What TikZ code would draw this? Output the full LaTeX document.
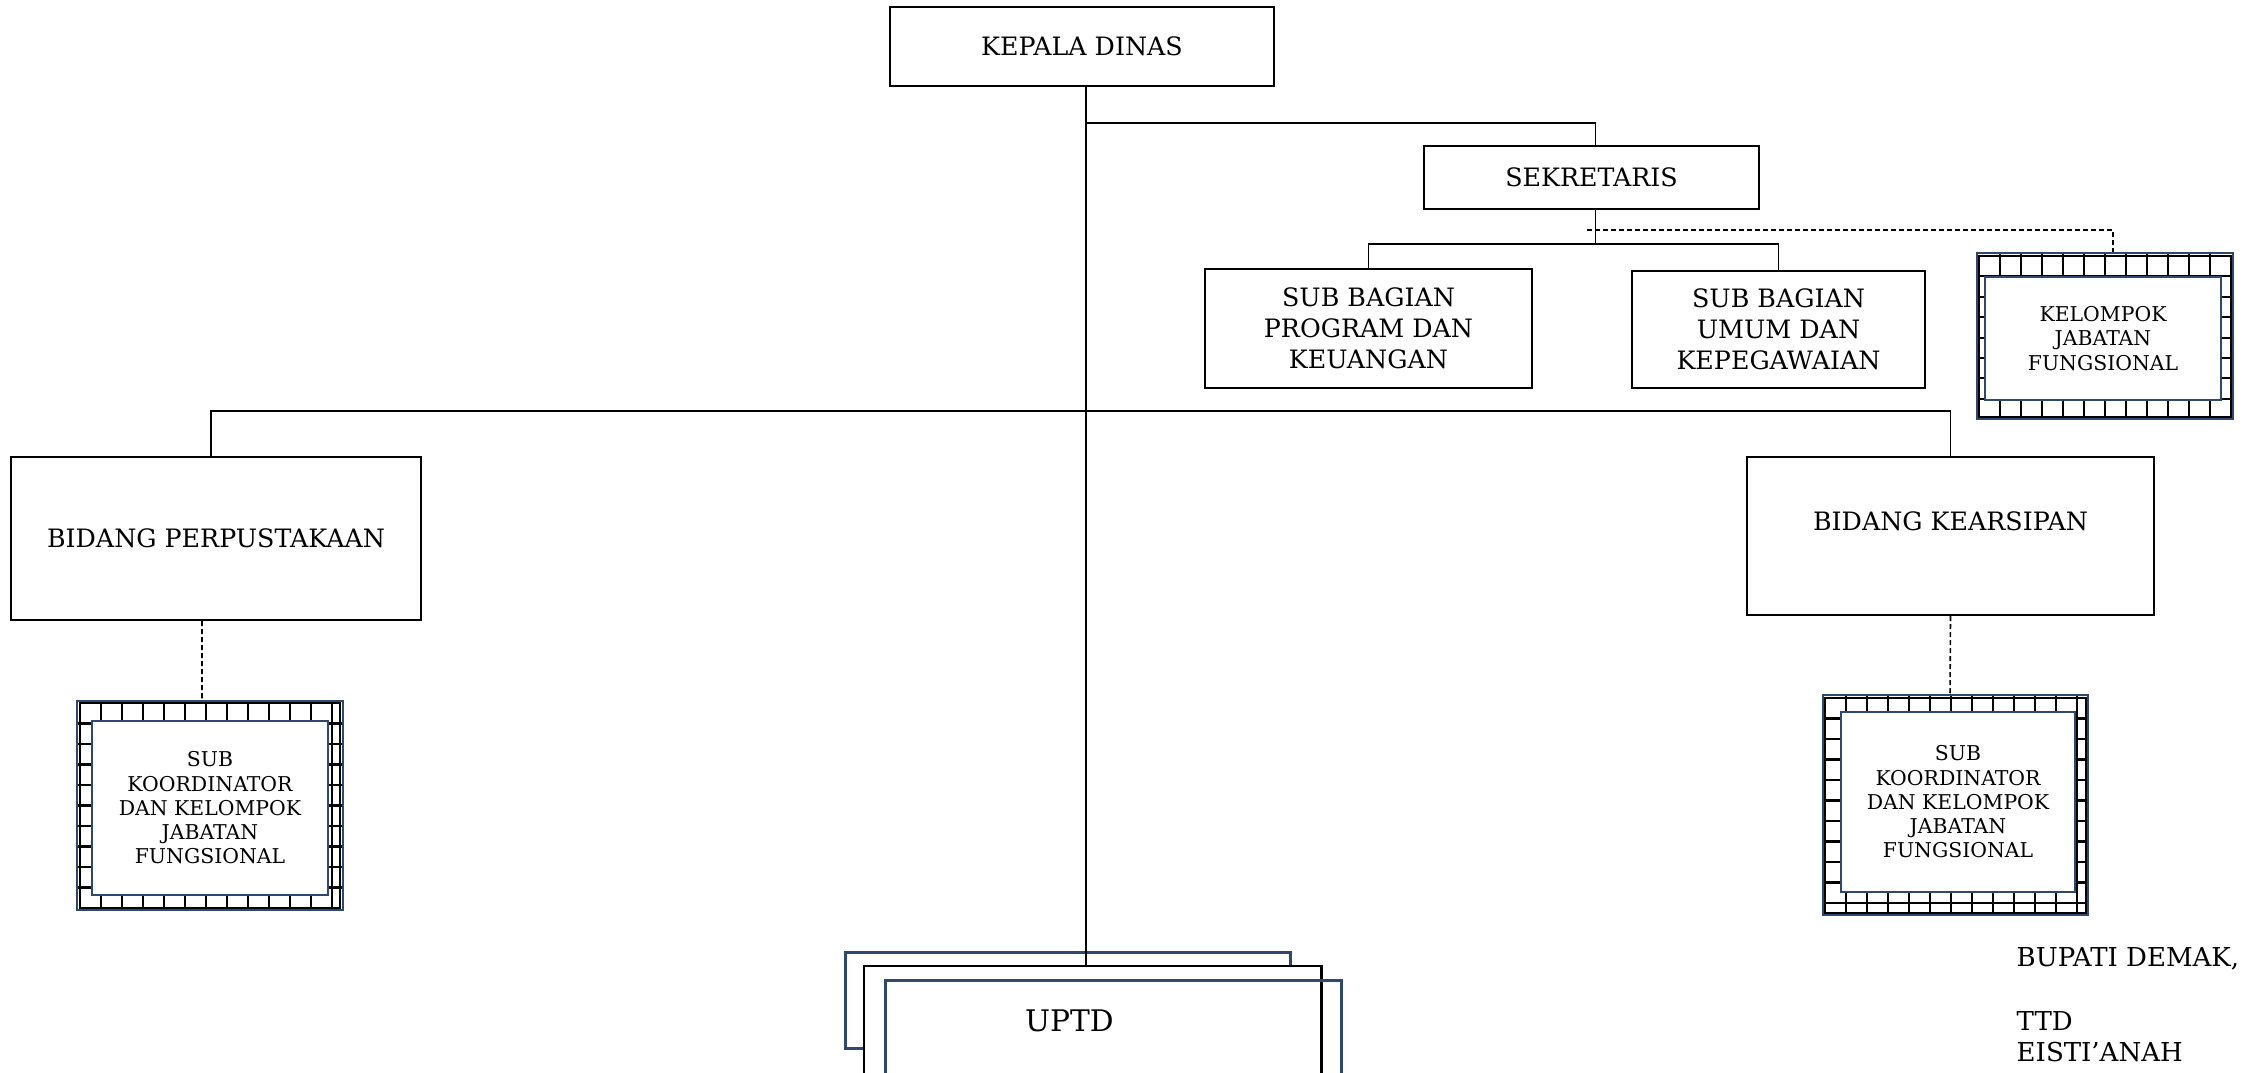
\documentclass[tikz,border=0pt]{standalone}
\usepackage{fontspec}
\setmainfont{DejaVu Serif}
\usepackage{tikz}
\definecolor{birutua}{RGB}{46,72,110}
\tikzset{
    kotak/.style={
           rectangle,
           draw=black, line width=0.65pt,
           fill=white,
           align=center,
           inner sep=1pt,
           font=\fontsize{7.2}{8.8}\selectfont},
    kotakjf/.style={
           rectangle,
           draw=birutua, line width=0.6pt,
           fill=white,
           align=center,
           inner sep=1pt,
           font=\fontsize{5.8}{6.9}\selectfont},
    kotakuptd/.style={
           rectangle,
           draw=birutua, line width=0.75pt},
    garis/.style={draw=black, line width=0.45pt},
    putus/.style={garis, dash pattern=on 0.5mm off 0.3mm},
    arsir/.style={draw=black, line width=0.6pt},
    bingkai/.style={draw=birutua, line width=0.7pt}
}

\begin{document}
\begin{tikzpicture}[x=0.01cm, y=-0.01cm]
  \useasboundingbox (0,0) rectangle (2255,1072);
  \clip (0,0) rectangle (2255,1072);
  % bingkai arsir kelompok jabatan fungsional
  \begin{scope}
    \clip (1977,253) rectangle (2233,419);
    \fill[white] (1977,253) rectangle (2233,419);
    \foreach \i in {1,...,11} \draw[arsir] (1979+21*\i,253) -- (1979+21*\i,419);
    \foreach \j in {1,...,7} \draw[arsir] (1977,256+20.4*\j) -- (2233,256+20.4*\j);
    \draw[arsir] (1979,256) rectangle (2231,417);
  \end{scope}
  \draw[bingkai] (1977,253) rectangle (2233,419);
  % bingkai arsir sub koordinator kiri
  \begin{scope}
    \clip (77,701) rectangle (343,910);
    \fill[white] (77,701) rectangle (343,910);
    \foreach \i in {1,...,12} \draw[arsir] (80+21*\i,701) -- (80+21*\i,910);
    \foreach \j in {1,...,9} \draw[arsir] (77,703+20.5*\j) -- (343,703+20.5*\j);
    \draw[arsir] (80,703) rectangle (340,908);
  \end{scope}
  \draw[bingkai] (77,701) rectangle (343,910);
  % bingkai arsir sub koordinator kanan
  \begin{scope}
    \clip (1823,695) rectangle (2088,915);
    \fill[white] (1823,695) rectangle (2088,915);
    \foreach \i in {1,...,12} \draw[arsir] (1825+21*\i,695) -- (1825+21*\i,915);
    \foreach \j in {1,...,10} \draw[arsir] (1823,698+20.5*\j) -- (2088,698+20.5*\j);
    \draw[arsir] (1825,698) rectangle (2086,913);
  \end{scope}
  \draw[bingkai] (1823,695) rectangle (2088,915);

  \node[kotak, minimum width=3.84cm, minimum height=0.79cm] (kadin) at (1082,46.5) {KEPALA DINAS};
  \node[kotak, minimum width=3.35cm, minimum height=0.63cm] (sekr) at (1591.5,177.5) {SEKRETARIS};
  \node[kotak, minimum width=3.27cm, minimum height=1.19cm] (subprog) at (1368.5,328.5) {SUB BAGIAN\\PROGRAM DAN\\KEUANGAN};
  \node[kotak, minimum width=2.93cm, minimum height=1.17cm] (subumum) at (1778.5,329.5) {SUB BAGIAN\\UMUM DAN\\KEPEGAWAIAN};
  \node[kotakjf, minimum width=2.36cm, minimum height=1.23cm] (kjf) at (2103,338.5) {KELOMPOK\\JABATAN\\FUNGSIONAL};
  \node[kotak, minimum width=4.10cm, minimum height=1.63cm] (bperp) at (216,538.5) {BIDANG PERPUSTAKAAN};
  \node[kotak, minimum width=4.07cm, minimum height=1.58cm] (bkars) at (1950.5,536) {\raisebox{3mm}{BIDANG KEARSIPAN}};
  \node[kotakjf, minimum width=2.36cm, minimum height=1.74cm] (sk1) at (210,808) {SUB\\KOORDINATOR\\DAN KELOMPOK\\JABATAN\\FUNGSIONAL};
  \node[kotakjf, minimum width=2.34cm, minimum height=1.80cm] (sk2) at (1958,802) {SUB\\KOORDINATOR\\DAN KELOMPOK\\JABATAN\\FUNGSIONAL};
  \node[kotakuptd, anchor=north west, minimum width=4.45cm, minimum height=0.96cm] (uptdbelakang) at (844,951) {};
  \node[kotak, anchor=north west, minimum width=4.57cm, minimum height=1.5cm] (uptdtengah) at (863,965) {};
  \node[kotakuptd, anchor=north west, minimum width=4.56cm, inner ysep=2.9mm, text height=2.2mm, text depth=8mm,
        font=\fontsize{8.45}{10}\selectfont] (uptd) at (884,979) {\hspace*{-8.8mm}UPTD};
  \node[anchor=north west, inner sep=0pt, align=left, font=\fontsize{7.4}{8.8}\selectfont] (bupati) at (2016,947)
        {BUPATI DEMAK,\\[3.3mm]TTD\\EISTI'ANAH};

  \coordinate (cabsekr) at (1591.5,244);
  \coordinate (cabjf) at (1587,230);
  \draw[garis] ([xshift=0.4mm]kadin.south) -- ([xshift=0.4mm]kadin.south |- uptdtengah.north);
  \draw[garis] ([xshift=0.4mm]kadin.south) ++(0,36) -| ([xshift=0.4mm]sekr.north);
  \draw[garis] ([xshift=0.4mm]sekr.south) -- ([xshift=0.4mm]cabsekr);
  \draw[garis] (subprog.north) |- (cabsekr) -| (subumum.north);
  \draw[putus] (cabjf) -| ([xshift=1mm,yshift=2.4mm]kjf.north);
  \draw[garis] ([xshift=-0.5mm]bperp.north) -- ++(0,-45) -| (bkars.north);
  \draw[putus] ([xshift=-1.4mm]bperp.south) -- ([xshift=-0.8mm,yshift=2mm]sk1.north);
  \draw[putus] (bkars.south) -- ([xshift=-0.8mm,yshift=1.7mm]sk2.north);
\end{tikzpicture}
\end{document}
